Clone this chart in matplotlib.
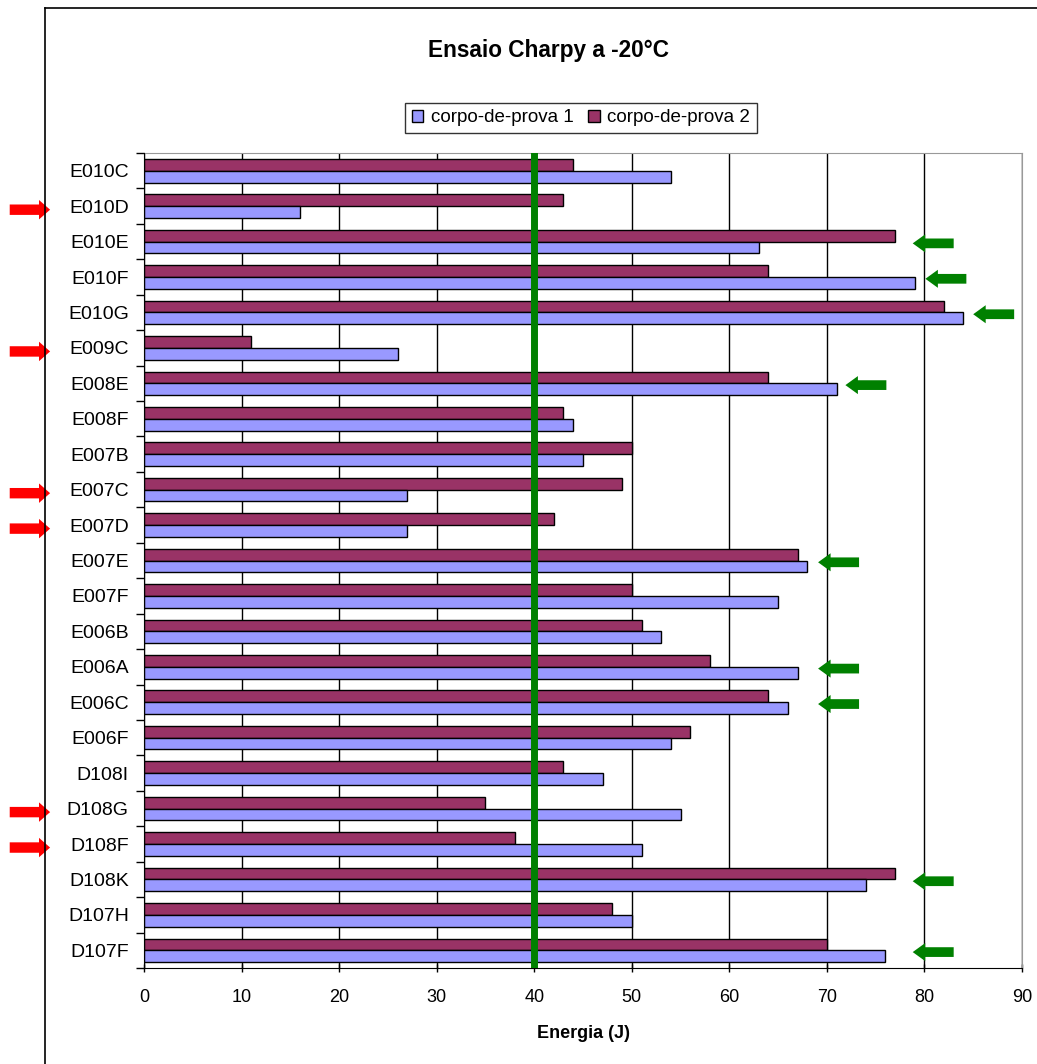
import numpy as np
import matplotlib.pyplot as plt
from matplotlib.lines import Line2D
from matplotlib.patches import Patch

plt.rcParams['font.family'] = ['Liberation Sans', 'DejaVu Sans']

amostras = ["E010C", "E010D", "E010E", "E010F", "E010G", "E009C", "E008E", "E008F",
            "E007B", "E007C", "E007D", "E007E", "E007F", "E006B", "E006A", "E006C",
            "E006F", "D108I", "D108G", "D108F", "D108K", "D107H", "D107F"]
cp1 = [54, 16, 63, 79, 84, 26, 71, 44, 45, 27, 27, 68, 65, 53, 67, 66, 54, 47, 55, 51, 74, 50, 76]
cp2 = [44, 43, 77, 64, 82, 11, 64, 43, 50, 49, 42, 67, 50, 51, 58, 64, 56, 43, 35, 38, 77, 48, 70]

limite = 40
# amostras que passam (seta verde) e posicao da ponta da seta
verdes = ["E010E", "E010F", "E010G", "E008E", "E007E", "E006A", "E006C", "D108K", "D107F"]
verdes_x = [78.8, 80.1, 85.0, 71.9, 69.1, 69.1, 69.1, 78.8, 78.8]
# amostras reprovadas (seta vermelha)
vermelhas = ["E010D", "E009C", "E007C", "E007D", "D108G", "D108F"]

cor1 = "#9999FF"
cor2 = "#993366"

fig = plt.figure(figsize=(10.37, 10.64), dpi=100)
ax = fig.add_axes([0.1389, 0.0902, 0.9855 - 0.1389, 0.8562 - 0.0902])

y = np.arange(len(amostras))
h = 0.333
ax.barh(y - h / 2, cp2, height=h, color=cor2, edgecolor="black", linewidth=1, zorder=3)
ax.barh(y + h / 2, cp1, height=h, color=cor1, edgecolor="black", linewidth=1, zorder=3)

ax.axvline(limite, color="#008000", linewidth=5, zorder=4)

ax.set_xlim(0, 90)
ax.set_ylim(len(amostras) - 0.5, -0.5)
ax.set_xticks(np.arange(0, 91, 10))
ax.set_yticks(y)
ax.set_yticklabels(amostras, fontsize=14)
ax.set_yticks(np.arange(-0.5, len(amostras), 1), minor=True)
ax.tick_params(axis="y", which="major", length=0, pad=11)
ax.tick_params(axis="y", which="minor", length=6, direction="out", width=1)
ax.tick_params(axis="x", which="major", length=6, direction="inout", width=1, labelsize=13, pad=12)
ax.grid(axis="x", color="black", linewidth=1, zorder=1)
for s in ["top", "right"]:
    ax.spines[s].set_color("#999999")
ax.spines["left"].set_zorder(5)

ax.set_xlabel("Energia (J)", fontsize=13, fontweight="bold", labelpad=14)

# setas verdes
for nome, xs in zip(verdes, verdes_x):
    i = amostras.index(nome)
    ax.annotate("", xy=(xs, i + 0.05), xytext=(xs + 4.2, i + 0.05),
                arrowprops=dict(arrowstyle="simple,head_length=0.9,head_width=1.3,tail_width=0.7",
                                color="#008000", lw=0, shrinkA=0, shrinkB=0), zorder=6)

# setas vermelhas (fora do grafico)
trans = ax.get_yaxis_transform()
for nome in vermelhas:
    i = amostras.index(nome)
    ax.annotate("", xy=(-0.107, i + 0.1), xytext=(-0.153, i + 0.1), xycoords=trans, textcoords=trans,
                arrowprops=dict(arrowstyle="simple,head_length=0.8,head_width=1.4,tail_width=0.75",
                                color="#FF0000", lw=0, shrinkA=0, shrinkB=0), annotation_clip=False)

fig.text(548 / 1037, 1 - 50 / 1064, "Ensaio Charpy a -20°C", ha="center", va="center",
         fontsize=16.3, fontweight="bold")

handles = [Patch(facecolor=cor1, edgecolor="black"), Patch(facecolor=cor2, edgecolor="black")]
fig.legend(handles, ["corpo-de-prova 1", "corpo-de-prova 2"], loc="center",
           bbox_to_anchor=(581 / 1037, 1 - 118 / 1064), ncol=2, fontsize=13.5, frameon=True,
           fancybox=False, edgecolor="black", handlelength=0.6, handleheight=0.6,
           handletextpad=0.4, columnspacing=0.8, borderpad=0.35)

# moldura externa
fig.add_artist(Line2D([45 / 1037, 45 / 1037], [0, 1 - 8 / 1064], color="black", lw=1.2,
                      transform=fig.transFigure))
fig.add_artist(Line2D([45 / 1037, 1], [1 - 8 / 1064, 1 - 8 / 1064], color="black", lw=1.2,
                      transform=fig.transFigure))

fig.savefig("out.png", dpi=100)
